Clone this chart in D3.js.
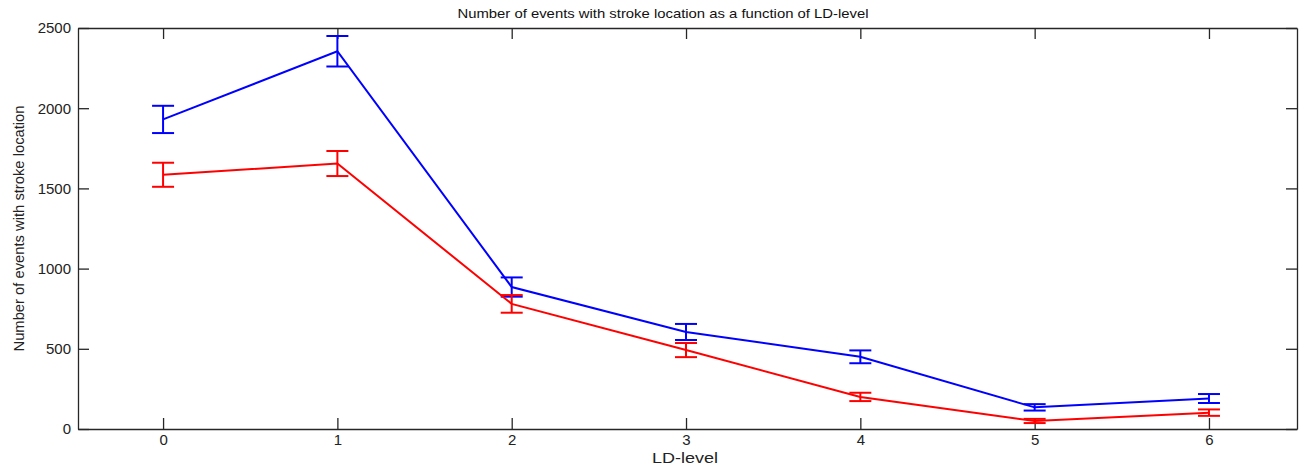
<!DOCTYPE html>
<html>
<head>
<meta charset="utf-8">
<script src="https://cdn.jsdelivr.net/npm/d3@7"></script>
<style>
  html, body { margin: 0; padding: 0; background: #fff; }
  svg { display: block; font-family: "Liberation Sans", Arial, sans-serif; }
</style>
</head>
<body>
<svg id="chart" width="1309" height="471"></svg>
<script>
const levels = [0, 1, 2, 3, 4, 5, 6];
const blueMean = [1930, 2355, 885, 605, 450, 135, 190];
const blueErr  = [85, 95, 60, 50, 40, 20, 28];
const redMean  = [1585, 1655, 780, 492, 200, 50, 102];
const redErr   = [75, 78, 55, 44, 26, 13, 20];
const yTicks = [0, 500, 1000, 1500, 2000, 2500];
const xTicks = [0, 1, 2, 3, 4, 5, 6];
const titleText = "Number of events with stroke location as a function of LD-level";
const xLabelText = "LD-level";
const yLabelText = "Number of events with stroke location";

const svg = d3.select("#chart");
const L = 78, R = 1297, T = 28, B = 429;
const x = d3.scaleLinear().domain([-0.488, 6.505]).range([L, R]);
const y = d3.scaleLinear().domain([0, 2500]).range([B, T]);
const axisColor = "#262626";
const tick = 11;

function styleAxis(g, showText) {
  g.selectAll("path.domain").attr("stroke", axisColor).attr("stroke-width", 1.3);
  g.selectAll(".tick line").attr("stroke", axisColor).attr("stroke-width", 1.3);
  g.selectAll(".tick text").attr("fill", "#222").style("font-size", "15px")
    .style("font-family", "'Liberation Sans', Arial, sans-serif");
  if (!showText) g.selectAll(".tick text").remove();
}

svg.append("g").attr("transform", `translate(0,${B})`)
  .call(d3.axisBottom(x).tickValues(xTicks).tickFormat(d3.format("d")).tickSizeInner(-tick).tickSizeOuter(0).tickPadding(5))
  .call(g => styleAxis(g, true));
svg.append("g").attr("transform", `translate(0,${T})`)
  .call(d3.axisTop(x).tickValues(xTicks).tickSizeInner(-tick).tickSizeOuter(0))
  .call(g => styleAxis(g, false));
svg.append("g").attr("transform", `translate(${L},0)`)
  .call(d3.axisLeft(y).tickValues(yTicks).tickFormat(d3.format("d")).tickSizeInner(-tick).tickSizeOuter(0).tickPadding(7))
  .call(g => styleAxis(g, true));
svg.append("g").attr("transform", `translate(${R},0)`)
  .call(d3.axisRight(y).tickValues(yTicks).tickSizeInner(-tick).tickSizeOuter(0))
  .call(g => styleAxis(g, false));

const capHalf = 11;
function drawSeries(means, errs, color) {
  const data = levels.map((l, i) => ({ l, m: means[i], e: errs[i] }));
  const g = svg.append("g");
  g.append("path").datum(data)
    .attr("fill", "none").attr("stroke", color).attr("stroke-width", 2)
    .attr("d", d3.line().x(d => x(d.l)).y(d => y(d.m)));
  const eb = g.selectAll("g.eb").data(data).enter().append("g");
  eb.append("line").attr("x1", d => x(d.l)).attr("x2", d => x(d.l))
    .attr("y1", d => y(d.m - d.e)).attr("y2", d => y(d.m + d.e))
    .attr("stroke", color).attr("stroke-width", 2);
  eb.append("line").attr("x1", d => x(d.l) - capHalf).attr("x2", d => x(d.l) + capHalf)
    .attr("y1", d => y(d.m + d.e)).attr("y2", d => y(d.m + d.e))
    .attr("stroke", color).attr("stroke-width", 2);
  eb.append("line").attr("x1", d => x(d.l) - capHalf).attr("x2", d => x(d.l) + capHalf)
    .attr("y1", d => y(d.m - d.e)).attr("y2", d => y(d.m - d.e))
    .attr("stroke", color).attr("stroke-width", 2);
}
drawSeries(blueMean, blueErr, "#0000ff");
drawSeries(redMean, redErr, "#ff0000");

svg.append("text").attr("x", 663).attr("y", 18)
  .attr("text-anchor", "middle").attr("fill", "#111")
  .style("font-size", "13px").attr("textLength", 411).attr("lengthAdjust", "spacingAndGlyphs")
  .text(titleText);
svg.append("text").attr("x", 685).attr("y", 463)
  .attr("text-anchor", "middle").attr("fill", "#222")
  .style("font-size", "14px").attr("textLength", 66).attr("lengthAdjust", "spacingAndGlyphs")
  .text(xLabelText);
svg.append("text").attr("transform", `translate(24,${(T + B) / 2}) rotate(-90)`)
  .attr("text-anchor", "middle").attr("fill", "#222")
  .style("font-size", "14px").attr("textLength", 246).attr("lengthAdjust", "spacingAndGlyphs")
  .text(yLabelText);
</script>
</body>
</html>
